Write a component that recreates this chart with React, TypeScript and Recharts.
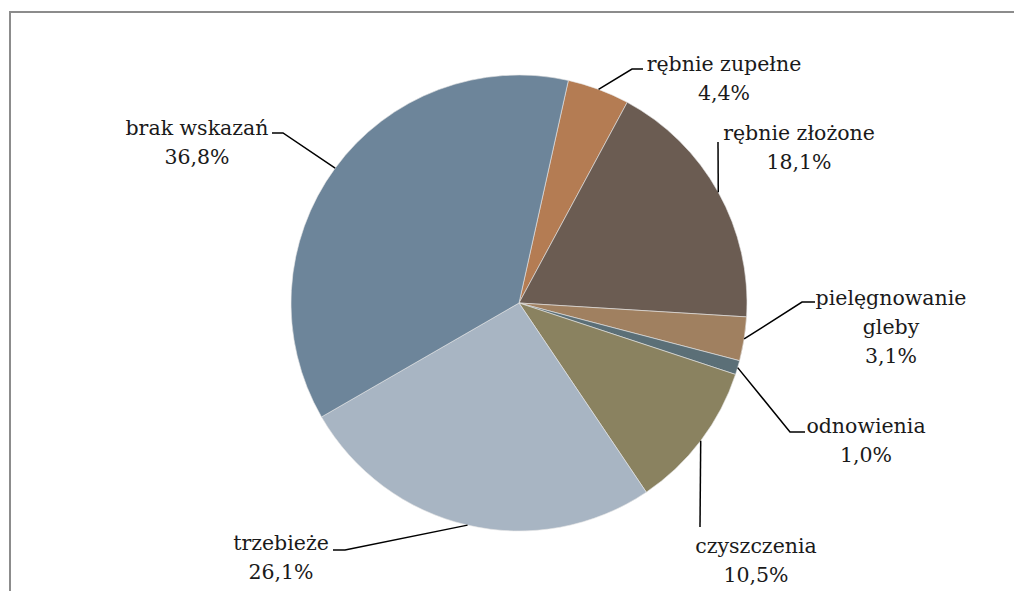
import { PieChart, Pie, Cell } from "recharts";

const categories = [
  "rębnie zupełne",
  "rębnie złożone",
  "pielęgnowanie gleby",
  "odnowienia",
  "czyszczenia",
  "trzebieże",
  "brak wskazań",
];
const shares = [4.4, 18.1, 3.1, 1.0, 10.5, 26.1, 36.8];
const colors = ["#B47C53", "#6B5C52", "#A08060", "#5B6F77", "#8A8260", "#A8B5C3", "#6D859A"];

const data = categories.map((name, i) => ({ name, value: shares[i] }));

// label placement relative to pie centre: text centre x / first baseline, leader elbow and end
const labelLayout = [
  { tx: 205, ty: -232, ex: 113, ey: -234, hx: 124, wrap: false },
  { tx: 280, ty: -163, ex: 199, ey: -161, hx: 199, wrap: false },
  { tx: 372, ty: 2, ex: 283, ey: -1, hx: 296, wrap: true },
  { tx: 347, ty: 130, ex: 271, ey: 129, hx: 286, wrap: false },
  { tx: 237, ty: 250, ex: 181, ey: 224, hx: 181, wrap: false },
  { tx: -238, ty: 247, ex: -174, ey: 247, hx: -186, wrap: false },
  { tx: -322, ty: -168, ex: -236, ey: -170, hx: -247, wrap: false },
];

const RAD = Math.PI / 180;
const LINE_H = 29;
const FONT = "DejaVu Serif";

const fmt = (v: number) => v.toFixed(1).replace(".", ",") + "%";

function renderLabel(props: any) {
  const { cx, cy, midAngle, outerRadius, index, name, value } = props;
  const l = labelLayout[index];
  const ax = cx + Math.cos(-midAngle * RAD) * outerRadius;
  const ay = cy + Math.sin(-midAngle * RAD) * outerRadius;
  const lines = l.wrap ? [...String(name).split(" "), fmt(value)] : [name, fmt(value)];
  return (
    <g>
      <polyline
        points={`${ax},${ay} ${cx + l.ex},${cy + l.ey} ${cx + l.hx},${cy + l.ey}`}
        fill="none"
        stroke="#000"
        strokeWidth={1.5}
      />
      <text
        x={cx + l.tx}
        y={cy + l.ty}
        textAnchor="middle"
        fill="#1a1a1a"
        fontFamily={FONT}
        fontSize={20.5}
      >
        {lines.map((t, i) => (
          <tspan key={i} x={cx + l.tx} dy={i === 0 ? 0 : LINE_H}>
            {t}
          </tspan>
        ))}
      </text>
    </g>
  );
}

export default function App() {
  return (
    <div style={{ position: "fixed", inset: 0, overflow: "hidden", background: "#fff" }}>
      <div
        style={{
          position: "absolute",
          left: 9,
          top: 11,
          width: 1100,
          height: 700,
          border: "2px solid #8c8c8c",
        }}
      />
      <div style={{ position: "absolute", left: 0, top: 0 }}>
        <PieChart width={1014} height={591} margin={{ top: 0, right: 0, bottom: 0, left: 0 }}>
          <Pie
            data={data}
            dataKey="value"
            nameKey="name"
            cx={519}
            cy={303}
            outerRadius={228}
            startAngle={77.5}
            endAngle={-282.5}
            stroke="#e6e6e6"
            strokeWidth={0.6}
            label={renderLabel}
            labelLine={false}
            isAnimationActive={false}
          >
            {data.map((d, i) => (
              <Cell key={d.name} fill={colors[i]} />
            ))}
          </Pie>
        </PieChart>
      </div>
    </div>
  );
}
